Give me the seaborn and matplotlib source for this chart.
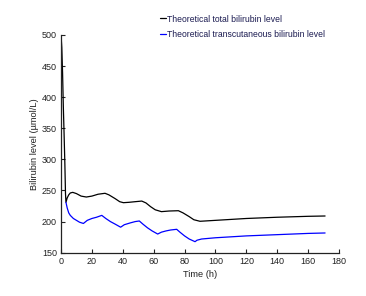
import numpy as np
import pandas as pd
import seaborn as sns
import matplotlib
matplotlib.use("Agg")
import matplotlib.pyplot as plt

# values
total_time = [0, 0.5, 1, 1.5, 2, 2.5, 2.9, 3.2, 4, 5, 6, 7.6, 10, 13, 16.4, 20, 24,
              28.5, 31, 35, 38, 40.4, 44, 48, 52.3, 55, 58, 61, 65, 70, 76, 79,
              83, 86, 90, 100, 120, 140, 160, 171]
total_level = [500, 480, 440, 385, 340, 292, 245, 231, 238, 243, 246, 247, 245,
               241, 239.5, 241, 244, 245.5, 243, 237, 232, 230.4, 231, 232, 233,
               230, 224, 219, 216, 217, 217.5, 214, 208, 203, 200.5, 202, 205,
               207, 208.5, 209]

tcb_time = [3.2, 4, 5, 6, 8, 10, 12, 14.5, 17, 20, 23, 26.4, 29, 32, 35, 38.6,
            41, 45, 48, 50.7, 53, 56, 59, 62.6, 65, 68, 71, 74.9, 77, 80, 83,
            86.8, 88, 91, 100, 120, 140, 160, 171]
tcb_level = [231, 222, 214, 210, 205, 202, 199, 197, 202, 205, 207, 210, 205,
             200, 196, 191, 195, 198, 200, 201, 196, 190, 185, 180, 183, 185,
             186.5, 187.6, 183, 177, 172, 167.7, 170, 172, 174, 177, 179, 181,
             181.7]

series_names = ["Theoretical total bilirubin level",
                "Theoretical transcutaneous bilirubin level"]

df = pd.concat([
    pd.DataFrame({"time": total_time, "level": total_level, "series": series_names[0]}),
    pd.DataFrame({"time": tcb_time, "level": tcb_level, "series": series_names[1]}),
])

sns.set_style("ticks")
plt.rcParams['font.family'] = ['Liberation Sans', 'DejaVu Sans']
plt.rcParams['xtick.direction'] = 'in'
plt.rcParams['ytick.direction'] = 'in'

fig = plt.figure(figsize=(3.66, 2.96), dpi=100)
ax = fig.add_axes([0.1667, 0.1463, 0.7595, 0.7355])

sns.lineplot(data=df, x="time", y="level", hue="series", sort=False,
             palette=["black", "#0000ff"], linewidth=0.9, ax=ax)

ax.set_xlim(0, 180)
ax.set_ylim(150, 500)
ax.set_xticks(range(0, 181, 20))
ax.set_yticks(range(150, 501, 50))
ax.tick_params(labelsize=6.5, length=3, width=0.8, colors="#222222", pad=3)
ax.set_xlabel("Time (h)", fontsize=6.7, color="#222222", labelpad=3)
ax.set_ylabel("Bilirubin level (µmol/L)", fontsize=6.7, color="#222222", labelpad=2)
for side in ["left", "bottom"]:
    ax.spines[side].set_linewidth(0.9)
    ax.spines[side].set_color("#222222")
sns.despine(ax=ax)

leg = ax.legend(loc="upper left", bbox_to_anchor=(0.437, 0.951),
                bbox_transform=fig.transFigure, frameon=False, fontsize=6.2,
                handlelength=0.75, handletextpad=0.1, labelspacing=0.8,
                borderpad=0, borderaxespad=0)
for t in leg.get_texts():
    t.set_color("#1a1a50")

fig.savefig("out.png", dpi=100)
